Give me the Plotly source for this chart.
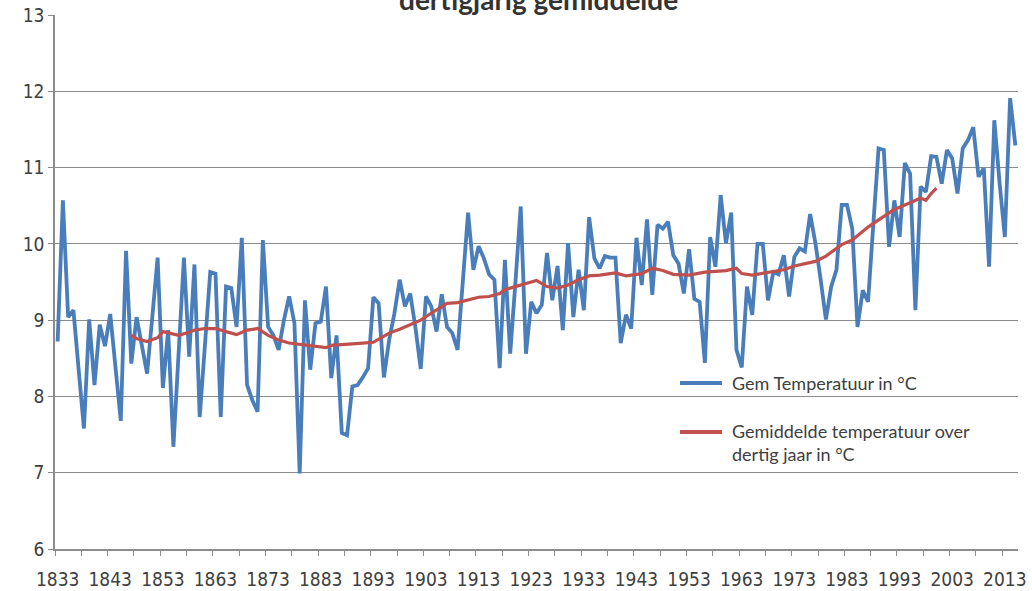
import plotly.graph_objects as go

# Annual mean temperature (°C), one value per year starting 1833
start_year = 1833
temp_values = [
    8.72, 10.57, 9.04, 9.13, 8.35, 7.58, 9.01, 8.15, 8.94, 8.66,   # 1833-1842
    9.08, 8.40, 7.68, 9.91, 8.43, 9.04, 8.65, 8.30, 9.05, 9.82,   # 1843-1852
    8.11, 8.87, 7.34, 8.60, 9.82, 8.52, 9.73, 7.73, 8.70, 9.63,   # 1853-1862
    9.61, 7.73, 9.44, 9.42, 8.91, 10.08, 8.15, 7.95, 7.80, 10.05, # 1863-1872
    8.91, 8.80, 8.61, 9.00, 9.31, 8.96, 6.99, 9.26, 8.35, 8.96,   # 1873-1882
    8.98, 9.44, 8.24, 8.80, 7.52, 7.49, 8.13, 8.15, 8.25, 8.37,   # 1883-1892
    9.30, 9.22, 8.25, 8.74, 9.09, 9.53, 9.18, 9.35, 8.90, 8.36,   # 1893-1902
    9.31, 9.18, 8.85, 9.34, 8.91, 8.83, 8.61, 9.50, 10.41, 9.66,  # 1903-1912
    9.97, 9.81, 9.60, 9.53, 8.37, 9.79, 8.56, 9.50, 10.49, 8.56,  # 1913-1922
    9.24, 9.09, 9.20, 9.88, 9.26, 9.71, 8.87, 10.01, 9.04, 9.66,  # 1923-1932
    9.13, 10.35, 9.81, 9.68, 9.84, 9.82, 9.82, 8.70, 9.07, 8.89,  # 1933-1942
    10.08, 9.46, 10.32, 9.33, 10.25, 10.20, 10.29, 9.85, 9.74, 9.35,  # 1943-1952
    9.93, 9.28, 9.24, 8.44, 10.09, 9.70, 10.64, 10.01, 10.41, 8.61,   # 1953-1962
    8.38, 9.44, 9.07, 10.00, 10.00, 9.26, 9.63, 9.60, 9.85, 9.31,     # 1963-1972
    9.83, 9.94, 9.90, 10.39, 10.01, 9.53, 9.01, 9.44, 9.66, 10.51,    # 1973-1982
    10.51, 10.20, 8.91, 9.39, 9.24, 10.25, 11.25, 11.23, 9.96, 10.57, # 1983-1992
    10.09, 11.06, 10.92, 9.13, 10.75, 10.68, 11.15, 11.14, 10.79, 11.23,  # 1993-2002
    11.12, 10.66, 11.25, 11.36, 11.53, 10.88, 10.99, 9.70, 11.62, 10.80,  # 2003-2012
    10.09, 11.91, 11.29,                                                  # 2013-2015
]
temp_years = list(range(start_year, start_year + len(temp_values)))

# Thirty-year mean (°C)
avg_years = [
    1847, 1848, 1850, 1852, 1853, 1854, 1856, 1858, 1859, 1861,
    1863, 1865, 1867, 1869, 1871, 1873, 1875, 1877, 1879, 1881,
    1884, 1885, 1888, 1891, 1893, 1894, 1896, 1898, 1900, 1902,
    1904, 1906, 1907, 1909, 1911, 1913, 1915, 1917, 1918, 1920,
    1922, 1924, 1926, 1928, 1930, 1932, 1934, 1936, 1939, 1941,
    1944, 1946, 1948, 1950, 1953, 1956, 1958, 1960, 1962, 1963,
    1965, 1967, 1969, 1971, 1973, 1975, 1977, 1979, 1981, 1982,
    1984, 1987, 1990, 1992, 1995, 1997, 1998, 1999, 2000,
]
avg_values = [
    8.80, 8.76, 8.72, 8.77, 8.85, 8.83, 8.80, 8.84, 8.87, 8.89,
    8.89, 8.85, 8.81, 8.87, 8.89, 8.80, 8.74, 8.70, 8.68, 8.66,
    8.64, 8.67, 8.69, 8.70, 8.71, 8.75, 8.83, 8.88, 8.94, 9.00,
    9.09, 9.18, 9.22, 9.23, 9.26, 9.30, 9.31, 9.35, 9.40, 9.44,
    9.47, 9.52, 9.44, 9.42, 9.46, 9.53, 9.58, 9.59, 9.62, 9.58,
    9.61, 9.68, 9.65, 9.60, 9.59, 9.63, 9.64, 9.65, 9.68, 9.61,
    9.59, 9.61, 9.63, 9.66, 9.71, 9.74, 9.77, 9.84, 9.94, 9.99,
    10.05, 10.22, 10.36, 10.45, 10.54, 10.60, 10.57, 10.66, 10.73,
]

x_tick_years = list(range(1833, 2014, 10))
y_ticks = [6, 7, 8, 9, 10, 11, 12, 13]

title_text = "dertigjarig gemiddelde"
name_temp = "Gem Temperatuur in °C"
name_avg = "Gemiddelde temperatuur over<br>dertig jaar in °C"

FONT = "Lato, 'Open Sans', sans-serif"
TICKFONT = "'Liberation Sans Narrow', 'DejaVu Sans Condensed', Lato, sans-serif"
TXT = "#404040"
GRID = "#8c8c8c"
BLUE = "#4a7ebb"
RED = "#c0504d"

fig = go.Figure()
fig.add_trace(go.Scatter(
    x=temp_years, y=temp_values, mode="lines", name=name_temp,
    line=dict(color=BLUE, width=3.8), showlegend=False,
))
fig.add_trace(go.Scatter(
    x=avg_years, y=avg_values, mode="lines", name=name_avg,
    line=dict(color=RED, width=3.2), showlegend=False,
))

# legend drawn in paper coordinates (inside the plot area, lower right)
leg_x0, leg_x1, leg_tx = 0.649, 0.6926, 0.701
leg_y1, leg_y2 = 0.3109, 0.2191
shapes = [
    dict(type="line", xref="paper", yref="paper", x0=leg_x0, x1=leg_x1,
         y0=leg_y1, y1=leg_y1, line=dict(color=BLUE, width=4)),
    dict(type="line", xref="paper", yref="paper", x0=leg_x0, x1=leg_x1,
         y0=leg_y2, y1=leg_y2, line=dict(color=RED, width=4)),
]
annotations = [
    dict(text="<b>" + title_text + "</b>", xref="paper", yref="paper",
         x=0.502, y=1.0, xanchor="center", yanchor="bottom", yshift=-3,
         showarrow=False, font=dict(size=28, color="#333333", family=FONT)),
    dict(text=name_temp, xref="paper", yref="paper", x=leg_tx, y=leg_y1,
         xanchor="left", yanchor="middle", showarrow=False, align="left",
         font=dict(size=18, color=TXT, family=FONT)),
    dict(text=name_avg, xref="paper", yref="paper", x=leg_tx, y=leg_y2,
         xanchor="left", yanchor="top", yshift=14, showarrow=False, align="left",
         font=dict(size=18, color=TXT, family=FONT)),
]

fig.update_layout(
    template="none",
    width=1032, height=591,
    margin=dict(l=55, r=14, t=15, b=42, autoexpand=False),
    paper_bgcolor="white", plot_bgcolor="white",
    font=dict(family=FONT, color=TXT, size=15),
    showlegend=False,
    shapes=shapes,
    annotations=annotations,
)

fig.update_xaxes(
    automargin=False,
    range=[1832.5, 2015.5],
    tickmode="array", tickvals=x_tick_years, ticktext=[str(v) for v in x_tick_years],
    ticks="", showgrid=False, zeroline=False,
    showline=True, linecolor=GRID, linewidth=1.5,
    tickfont=dict(size=19, color=TXT, family=TICKFONT), ticklabelstandoff=12,
    minor=dict(ticks="outside", tick0=1832.5, dtick=5, ticklen=5,
               tickcolor=GRID, tickwidth=1, showgrid=False),
)
fig.update_yaxes(
    automargin=False,
    range=[6, 13], tickmode="array", tickvals=y_ticks,
    ticks="outside", ticklen=5, tickcolor=GRID,
    showgrid=True, gridcolor=GRID, gridwidth=1.3, zeroline=False,
    showline=True, linecolor=GRID, linewidth=1.5,
    tickfont=dict(size=19, color=TXT, family=TICKFONT),
)

fig.write_html("out.html", config={"displayModeBar": False},
               post_script="document.body.style.margin='0';")
